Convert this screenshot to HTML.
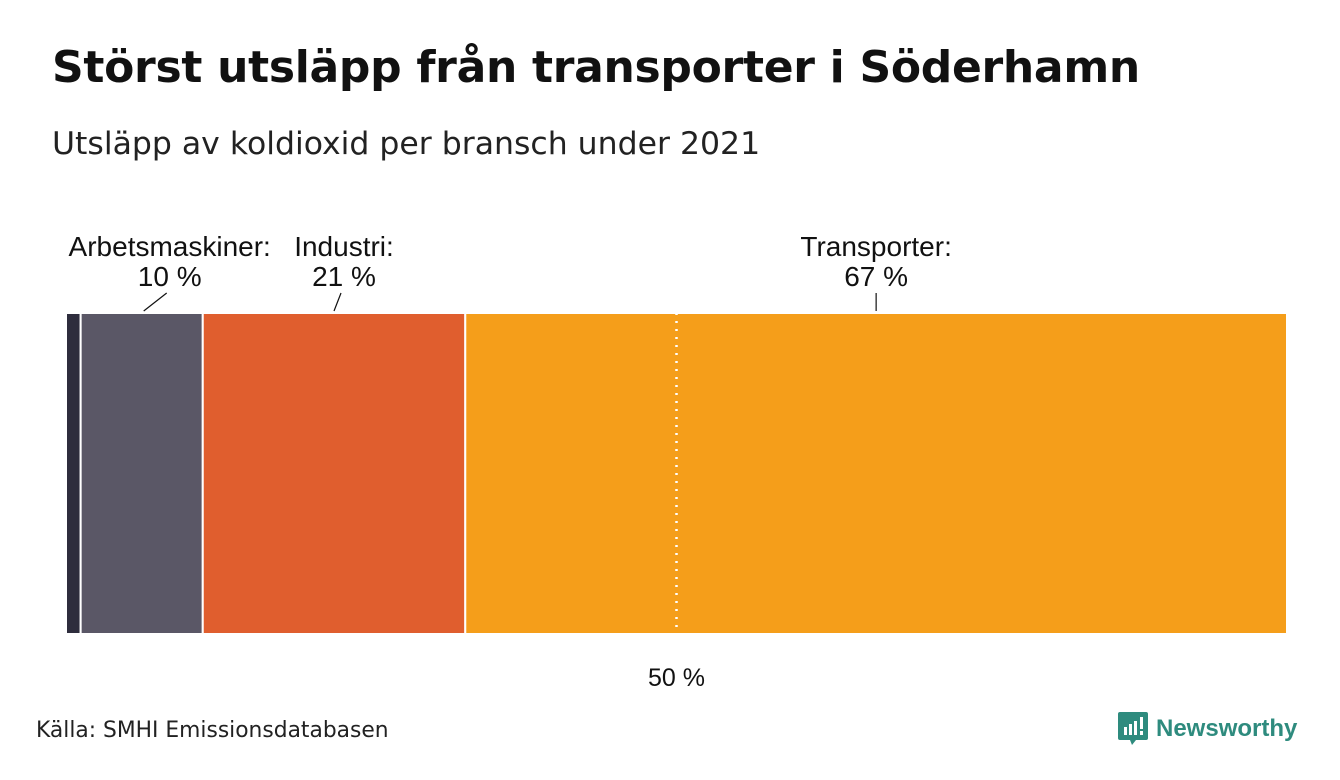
<!DOCTYPE html>
<html><head><meta charset="utf-8"><style>
body{margin:0;background:#fff;width:1340px;height:780px;overflow:hidden;font-family:"Liberation Sans",sans-serif}
#title{position:absolute;left:52px;top:42px;font-family:"DejaVu Sans",sans-serif;font-size:44px;font-weight:bold;color:#111;margin:0;letter-spacing:-0.3px}
#sub{position:absolute;left:52px;top:126px;font-family:"DejaVu Sans",sans-serif;font-size:31.5px;color:#222}
#src{position:absolute;left:36px;top:718px;font-family:"DejaVu Sans",sans-serif;font-size:21.8px;color:#222}
#logo{position:absolute;left:1118px;top:712px;display:flex;align-items:center}
#logo span{font-size:24px;font-weight:bold;color:#2e8b7e;margin-left:8px}
svg{position:absolute;left:0;top:0}
</style></head><body>
<h1 id="title">Störst utsläpp från transporter i Söderhamn</h1>
<div id="sub">Utsläpp av koldioxid per bransch under 2021</div>
<svg id="chart" width="1340" height="780"></svg>
<div id="src">Källa: SMHI Emissionsdatabasen</div>
<div id="logo">
<svg style="position:static" width="30" height="34" viewBox="0 0 30 34"><path d="M2 0h26a2 2 0 0 1 2 2v24a2 2 0 0 1-2 2H18l-4 5-2-5H2a2 2 0 0 1-2-2V2a2 2 0 0 1 2-2z" fill="#2e8b7e"/><rect x="6" y="15" width="3" height="8" fill="#fff"/><rect x="11" y="12" width="3" height="11" fill="#fff"/><rect x="16" y="9" width="3" height="14" fill="#fff"/><rect x="22" y="5" width="3" height="12" fill="#fff"/><rect x="22" y="19" width="3" height="4" fill="#fff"/></svg>
<span>Newsworthy</span></div>
<script>
const categories=["Övrigt","Arbetsmaskiner","Industri","Transporter"];
const values=[1.2,10,21.5,67.3];
const printed=["","10 %","21 %","67 %"];
const colors=["#2e2d3d","#5a5766","#e05e2e","#f59e1a"];
const markerValue=50;
const NS="http://www.w3.org/2000/svg";
const svg=document.getElementById("chart");
const X0=66,X1=1287,Y0=313,Y1=634;
const total=values.reduce((a,b)=>a+b,0);
const x=v=>X0+(v/total)*(X1-X0);
function mk(t,a){const e=document.createElementNS(NS,t);for(const k in a)e.setAttribute(k,a[k]);svg.appendChild(e);return e;}
const labelShift=[0,28,10,0];
let acc=0;
values.forEach((v,i)=>{
  const xa=x(acc),xb=x(acc+v);
  const r=mk("rect",{x:xa,y:Y0,width:xb-xa,height:Y1-Y0,fill:colors[i],stroke:"#fff","stroke-width":2});
  
  
  if(printed[i]){
    const c=(xa+xb)/2, lx=c+labelShift[i];
    const l=mk("line",{x1:c+(i==1?2:0),y1:Y0-2,x2:lx-3*(i>0&&i<3?1:0),y2:293,stroke:"#111","stroke-width":1.2});
    
    
    const t1=mk("text",{x:lx,y:256,"text-anchor":"middle","font-size":28,fill:"#111"});
    t1.textContent=categories[i]+":";
    
    
    const t2=mk("text",{x:lx,y:286,"text-anchor":"middle","font-size":28,fill:"#111"});
    t2.textContent=printed[i];
    
    
  }
  acc+=v;
});
const mx=x(markerValue/100*total);
const ml=mk("line",{x1:mx,y1:Y0,x2:mx,y2:Y1,stroke:"#fff","stroke-width":2.5,"stroke-dasharray":"2 6"});


const mt=mk("text",{x:mx,y:686,"text-anchor":"middle","font-size":25,fill:"#111"});
mt.textContent=markerValue+" %";


</script>
</body></html>
